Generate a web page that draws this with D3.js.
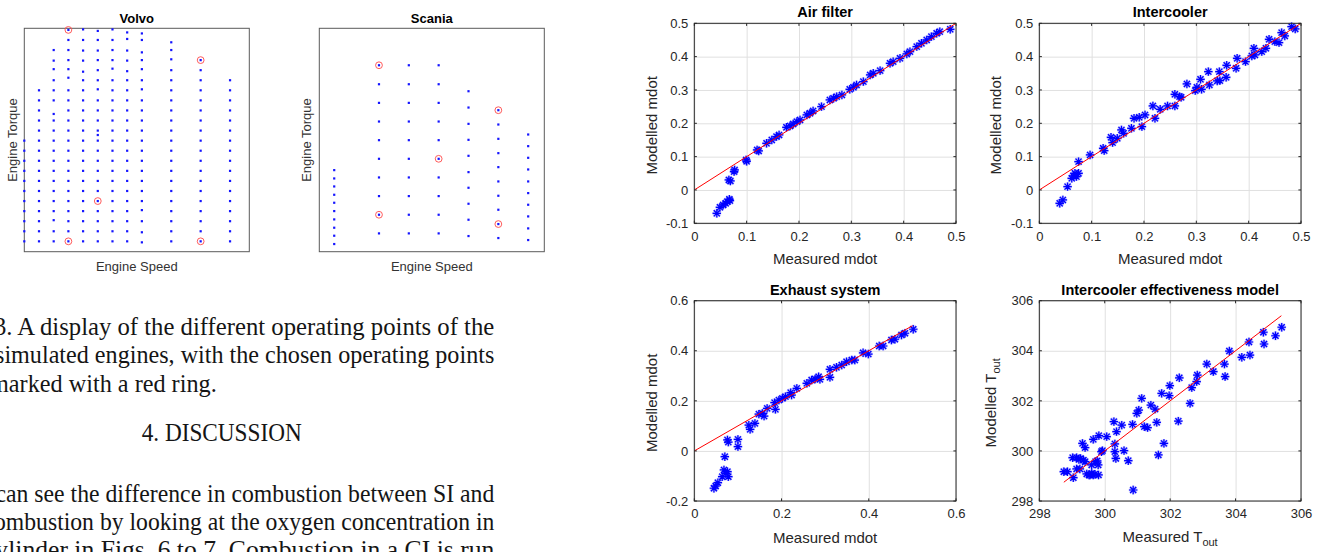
<!DOCTYPE html>
<html>
<head>
<meta charset="utf-8">
<script src="https://cdn.jsdelivr.net/npm/d3@7"></script>
<style>
  body { margin: 0; background: #fff; }
  svg { display: block; }
  text { font-family: "Liberation Sans", Arial, sans-serif; }
  .paper { font-family: "Liberation Serif", "Times New Roman", serif; font-size: 26px; fill: #151515; }
</style>
</head>
<body>
<div id="chart"></div>
<script>
// index.html — page snippet: operating point maps + component model validation

const width = 1327;
const height = 552;

// ---------- data: operating points (engine speed rpm / torque Nm) ----------
const volvoSpeeds = [800, 900, 1000, 1100, 1200, 1300, 1400, 1500, 1600, 1800, 2000, 2200];
const volvoTorques = [
  [200, 300, 400, 500, 600, 700, 800, 900, 1000, 1100, 1200],
  [200, 300, 400, 500, 600, 700, 800, 900, 1000, 1100, 1200, 1300, 1400, 1500, 1600, 1700],
  [200, 300, 410, 500, 600, 700, 800, 900, 1000, 1100, 1200, 1300, 1400, 1465, 1600, 1700, 1800, 1910, 1995, 2100],
  [200, 300, 400, 500, 600, 700, 800, 900, 1000, 1100, 1200, 1300, 1400, 1500, 1600, 1700, 1825, 1910, 2000, 2100, 2200, 2300],
  [200, 300, 400, 500, 600, 700, 800, 900, 1000, 1100, 1200, 1300, 1400, 1500, 1600, 1700, 1800, 1885, 1995, 2095, 2200, 2305],
  [200, 300, 400, 500, 600, 700, 800, 900, 1000, 1100, 1200, 1256, 1300, 1400, 1500, 1600, 1710, 1800, 1900, 2000, 2095, 2200, 2290],
  [200, 300, 400, 500, 600, 700, 800, 900, 1000, 1100, 1200, 1300, 1400, 1500, 1600, 1700, 1800, 1915, 2000, 2100, 2200, 2305],
  [200, 300, 400, 500, 600, 700, 800, 900, 1000, 1100, 1200, 1300, 1400, 1500, 1600, 1700, 1800, 1890, 1995, 2095, 2210, 2275],
  [190, 290, 400, 510, 600, 700, 800, 900, 1000, 1100, 1200, 1300, 1400, 1500, 1600, 1710, 1800, 1910, 2000, 2077, 2200, 2265],
  [200, 300, 400, 500, 600, 700, 800, 900, 1000, 1100, 1200, 1300, 1400, 1500, 1600, 1700, 1800, 1900, 2008, 2100, 2177],
  [200, 300, 400, 500, 600, 700, 800, 900, 1000, 1100, 1200, 1300, 1400, 1500, 1600, 1700, 1800, 1900, 2000],
  [200, 300, 400, 500, 600, 700, 800, 900, 1000, 1100, 1200, 1300, 1400, 1500, 1600, 1700, 1800]
];
const volvoChosen = [[1100, 2300], [2000, 2000], [1300, 600], [1100, 200], [2000, 200]];

const scaniaSpeeds = [700, 1000, 1200, 1400, 1600, 1800, 2000];
const scaniaTorques = [
  [92, 192, 288, 388, 488, 588, 684, 784, 880, 980],
  [220, 444, 668, 892, 1116, 1340, 1564, 1788, 2012, 2240],
  [220, 444, 668, 892, 1116, 1340, 1564, 1788, 2012, 2240],
  [220, 444, 668, 892, 1116, 1340, 1564, 1788, 2012, 2240],
  [188, 384, 576, 768, 956, 1152, 1344, 1536, 1732, 1928],
  [164, 332, 504, 672, 844, 1016, 1184, 1356, 1528, 1700],
  [140, 280, 424, 564, 704, 844, 988, 1128, 1268, 1408]
];
const scaniaChosen = [[1000, 2240], [1800, 1700], [1400, 1116], [1000, 444], [1800, 332]];

// ---------- data: measured vs modelled ----------
const airFilterPts = [
  [0.043, -0.070], [0.049, -0.052], [0.055, -0.045], [0.060, -0.040], [0.063, -0.035], [0.067, -0.028],
  [0.068, -0.032], [0.066, 0.030], [0.069, 0.027], [0.076, 0.055], [0.077, 0.060], [0.099, 0.090],
  [0.100, 0.086], [0.120, 0.120], [0.123, 0.117], [0.138, 0.140], [0.148, 0.150], [0.157, 0.160],
  [0.162, 0.165], [0.176, 0.188], [0.183, 0.192], [0.189, 0.198], [0.196, 0.205], [0.202, 0.210],
  [0.215, 0.225], [0.221, 0.230], [0.227, 0.237], [0.243, 0.250], [0.259, 0.270], [0.266, 0.275],
  [0.272, 0.280], [0.282, 0.285], [0.297, 0.302], [0.304, 0.308], [0.310, 0.315], [0.323, 0.325],
  [0.336, 0.345], [0.342, 0.350], [0.355, 0.358], [0.374, 0.380], [0.380, 0.385], [0.393, 0.395],
  [0.406, 0.408], [0.412, 0.415], [0.425, 0.430], [0.434, 0.440], [0.444, 0.450], [0.453, 0.460],
  [0.463, 0.470], [0.469, 0.475], [0.489, 0.482]
];
const intercoolerPts = [
  [0.039, -0.040], [0.045, -0.030], [0.054, 0.010], [0.062, 0.035], [0.065, 0.042], [0.068, 0.050],
  [0.071, 0.040], [0.075, 0.050], [0.075, 0.085], [0.097, 0.105], [0.122, 0.125], [0.124, 0.118],
  [0.137, 0.158], [0.140, 0.142], [0.149, 0.155], [0.157, 0.180], [0.161, 0.170], [0.176, 0.185],
  [0.181, 0.215], [0.191, 0.218], [0.196, 0.190], [0.202, 0.225], [0.217, 0.252], [0.221, 0.215],
  [0.231, 0.242], [0.245, 0.252], [0.259, 0.287], [0.259, 0.252], [0.268, 0.280], [0.271, 0.278],
  [0.282, 0.318], [0.298, 0.298], [0.301, 0.308], [0.308, 0.332], [0.310, 0.302], [0.325, 0.315],
  [0.323, 0.355], [0.340, 0.327], [0.344, 0.355], [0.345, 0.328], [0.357, 0.338], [0.358, 0.374],
  [0.376, 0.365], [0.378, 0.395], [0.394, 0.385], [0.406, 0.402], [0.410, 0.425], [0.412, 0.405],
  [0.425, 0.415], [0.433, 0.425], [0.439, 0.452], [0.450, 0.445], [0.458, 0.442], [0.463, 0.472],
  [0.469, 0.462], [0.482, 0.490], [0.489, 0.483]
];
const exhaustPts = [
  [0.045, -0.149], [0.049, -0.140], [0.054, -0.127], [0.064, -0.103], [0.068, -0.076], [0.072, -0.090],
  [0.076, -0.083], [0.078, -0.103], [0.070, -0.023], [0.076, 0.044], [0.078, 0.035], [0.100, 0.046],
  [0.100, 0.017], [0.125, 0.103], [0.128, 0.086], [0.139, 0.110], [0.148, 0.147], [0.156, 0.150],
  [0.160, 0.139], [0.167, 0.170], [0.184, 0.193], [0.186, 0.166], [0.194, 0.203], [0.202, 0.210],
  [0.209, 0.217], [0.221, 0.233], [0.223, 0.223], [0.235, 0.250], [0.258, 0.270], [0.269, 0.283],
  [0.277, 0.287], [0.285, 0.296], [0.288, 0.286], [0.311, 0.326], [0.311, 0.294], [0.326, 0.334],
  [0.338, 0.343], [0.349, 0.356], [0.361, 0.363], [0.368, 0.363], [0.387, 0.392], [0.399, 0.387],
  [0.424, 0.419], [0.433, 0.419], [0.452, 0.443], [0.460, 0.446], [0.475, 0.463], [0.483, 0.470],
  [0.502, 0.486]
];
const effectivenessPts = [
  [298.75, 299.17], [298.86, 299.17], [299.04, 298.93], [299.02, 299.73], [299.14, 299.73], [299.21, 299.66],
  [299.14, 299.28], [299.24, 299.28], [299.32, 300.30], [299.40, 300.13], [299.35, 299.63], [299.40, 299.57],
  [299.45, 299.08], [299.55, 299.04], [299.60, 299.10], [299.65, 299.04], [299.70, 299.07], [299.60, 299.44],
  [299.65, 300.46], [299.77, 299.60], [299.80, 299.44], [299.81, 299.04], [299.82, 300.61], [299.90, 299.97],
  [300.06, 300.57], [300.28, 301.17], [300.31, 300.28], [300.31, 299.97], [300.34, 299.70], [300.36, 300.77],
  [300.52, 301.03], [300.59, 300.01], [300.72, 299.61], [300.85, 301.06], [300.87, 298.44], [300.98, 301.50],
  [301.04, 301.63], [301.13, 302.10], [301.21, 300.97], [301.31, 300.93], [301.41, 301.83], [301.54, 301.67],
  [301.59, 301.14], [301.64, 299.84], [301.74, 302.30], [301.81, 300.30], [301.97, 302.21], [301.99, 302.61],
  [302.25, 301.19], [302.28, 302.92], [302.61, 301.90], [302.66, 302.53], [302.81, 302.77], [302.83, 303.03],
  [303.12, 303.47], [303.32, 303.17], [303.66, 303.47], [303.68, 302.97], [303.81, 303.99], [304.19, 303.74],
  [304.41, 304.35], [304.44, 303.83], [304.85, 304.74], [304.87, 304.27], [305.22, 304.60], [305.41, 304.94],
  [299.52, 299.04], [299.72, 299.57], [299.93, 300.01], [299.26, 299.70]
];

// y = x reference lines
const mdotLine = [[0, 0], [0.5, 0.5]];
const toutLine = [[298.75, 298.75], [305.4, 305.4]];

// tick values
const mdotTicks5 = [0, 0.1, 0.2, 0.3, 0.4, 0.5];
const mdotYTicks5 = [-0.1, 0, 0.1, 0.2, 0.3, 0.4, 0.5];
const mdotTicks6 = [0, 0.2, 0.4, 0.6];
const mdotYTicks6 = [-0.2, 0, 0.2, 0.4, 0.6];
const toutTicks = [298, 300, 302, 304, 306];

// paper text lines
const paperLines = [
  "3. A display of the different operating points of the",
  "simulated engines, with the chosen operating points",
  "marked with a red ring.",
  "4. DISCUSSION",
  "can see the difference in combustion between SI and",
  "combustion by looking at the oxygen concentration in",
  "cylinder in Figs. 6 to 7. Combustion in a CI is run"
];

// ---------- svg ----------
const svg = d3.select("#chart")
  .append("svg")
  .attr("width", width)
  .attr("height", height);

svg.append("rect").attr("width", width).attr("height", height).attr("fill", "#fff");

// ---------- operating point maps ----------
function opPanel(p) {
  const x = d3.scaleLinear().domain(p.xDomain).range([p.left, p.right]);
  const y = d3.scaleLinear().domain(p.yDomain).range([p.bottom, p.top]);
  const g = svg.append("g");

  g.append("rect")
    .attr("x", p.left).attr("y", p.top)
    .attr("width", p.right - p.left).attr("height", p.bottom - p.top)
    .attr("fill", "none").attr("stroke", "#5a5a5a").attr("stroke-width", 1);

  const pts = p.speeds.flatMap((s, i) => p.torques[i].map(t => [s, t]));
  g.selectAll(".dot").data(pts).join("rect")
    .attr("x", d => x(d[0]) - 1.1).attr("y", d => y(d[1]) - 1.1)
    .attr("width", 2.2).attr("height", 2.2)
    .attr("fill", "#1414ff");

  g.selectAll(".ring").data(p.chosen).join("circle")
    .attr("cx", d => x(d[0])).attr("cy", d => y(d[1]))
    .attr("r", 3.4)
    .attr("fill", "none").attr("stroke", "#ff4a4a").attr("stroke-width", 0.9);

  const cx = (p.left + p.right) / 2;
  g.append("text").attr("x", cx).attr("y", 22.5)
    .attr("text-anchor", "middle").attr("font-size", 13).attr("font-weight", "bold")
    .attr("fill", "#000").text(p.title);
  g.append("text").attr("x", cx).attr("y", 270.5)
    .attr("text-anchor", "middle").attr("font-size", 13)
    .attr("fill", "#333").text("Engine Speed");
  g.append("text")
    .attr("transform", `translate(${p.ylabelX},${(p.top + p.bottom) / 2}) rotate(-90)`)
    .attr("text-anchor", "middle").attr("dy", "0.35em").attr("font-size", 13)
    .attr("fill", "#333").text("Engine Torque");
}

opPanel({
  title: "Volvo", speeds: volvoSpeeds, torques: volvoTorques, chosen: volvoChosen,
  xDomain: [800, 2331], yDomain: [97, 2316],
  left: 24.3, right: 249.3, top: 28.3, bottom: 251.7, ylabelX: 12.5
});
opPanel({
  title: "Scania", speeds: scaniaSpeeds, torques: scaniaTorques, chosen: scaniaChosen,
  xDomain: [600, 2108], yDomain: [0, 2684],
  left: 319.3, right: 544.3, top: 28.3, bottom: 251.7, ylabelX: 306.5
});

// ---------- scatter panels ----------
function asterisk(cx, cy, r) {
  const d = r * 0.72;
  return `M${cx - r},${cy}L${cx + r},${cy}M${cx},${cy - r}L${cx},${cy + r}` +
         `M${cx - d},${cy - d}L${cx + d},${cy + d}M${cx - d},${cy + d}L${cx + d},${cy - d}`;
}

const fmt = d => d === 0 ? "0" : (Number.isInteger(d) ? String(d) : d.toFixed(1));

function scatterPanel(p) {
  const x = d3.scaleLinear().domain(p.xDomain).range([p.left, p.right]);
  const y = d3.scaleLinear().domain(p.yDomain).range([p.bottom, p.top]);
  const w = p.right - p.left, h = p.bottom - p.top;
  const g = svg.append("g");

  // grid + tick labels
  const gx = g.append("g")
    .attr("transform", `translate(0,${p.bottom})`)
    .call(d3.axisBottom(x).tickValues(p.xTicks).tickSize(-h).tickPadding(8).tickFormat(fmt));
  const gy = g.append("g")
    .attr("transform", `translate(${p.left},0)`)
    .call(d3.axisLeft(y).tickValues(p.yTicks).tickSize(-w).tickPadding(6).tickFormat(fmt));
  [gx, gy].forEach(a => {
    a.select(".domain").remove();
    a.selectAll("line").attr("stroke", "#e0e0e0");
    a.selectAll("text").attr("font-size", 13).attr("fill", "#262626")
      .attr("font-family", "Liberation Sans, Arial, sans-serif");
  });

  // markers
  const pts = g.append("g");
  pts.selectAll(".halo").data(p.points).join("path")
    .attr("d", d => asterisk(x(d[0]), y(d[1]), 4.4))
    .attr("stroke", "#7a7aff").attr("stroke-width", 2.4).attr("stroke-opacity", 0.55).attr("fill", "none");
  pts.selectAll(".star").data(p.points).join("path")
    .attr("d", d => asterisk(x(d[0]), y(d[1]), 4.2))
    .attr("stroke", "#0000ff").attr("stroke-width", 1.2).attr("fill", "none");

  // y = x line
  g.append("path").datum(p.line)
    .attr("fill", "none").attr("stroke", "#ff0000").attr("stroke-width", 1)
    .attr("d", d3.line().x(d => x(d[0])).y(d => y(d[1])));

  // box + small inner ticks
  g.append("rect").attr("x", p.left).attr("y", p.top).attr("width", w).attr("height", h)
    .attr("fill", "none").attr("stroke", "#262626").attr("stroke-width", 1);
  const tk = 2.6;
  p.xTicks.forEach(v => {
    g.append("line").attr("x1", x(v)).attr("x2", x(v)).attr("y1", p.bottom).attr("y2", p.bottom - tk).attr("stroke", "#262626");
    g.append("line").attr("x1", x(v)).attr("x2", x(v)).attr("y1", p.top).attr("y2", p.top + tk).attr("stroke", "#262626");
  });
  p.yTicks.forEach(v => {
    g.append("line").attr("y1", y(v)).attr("y2", y(v)).attr("x1", p.left).attr("x2", p.left + tk).attr("stroke", "#262626");
    g.append("line").attr("y1", y(v)).attr("y2", y(v)).attr("x1", p.right).attr("x2", p.right - tk).attr("stroke", "#262626");
  });

  // title and labels
  const cx = (p.left + p.right) / 2;
  g.append("text").attr("x", cx).attr("y", p.titleY)
    .attr("text-anchor", "middle").attr("font-size", 14.5).attr("font-weight", "bold")
    .attr("fill", "#000").text(p.title);

  const xl = g.append("text").attr("x", cx).attr("y", p.xlabelY)
    .attr("text-anchor", "middle").attr("font-size", 15).attr("fill", "#262626");
  const yl = g.append("text")
    .attr("transform", `translate(${p.ylabelX},${(p.top + p.bottom) / 2 + 2}) rotate(-90)`)
    .attr("text-anchor", "middle").attr("dy", "0.35em").attr("font-size", 15).attr("fill", "#262626");
  if (p.sub) {
    xl.append("tspan").text("Measured T");
    xl.append("tspan").attr("font-size", 11).attr("dy", 4).text("out");
    yl.append("tspan").text("Modelled T");
    yl.append("tspan").attr("font-size", 11).attr("dy", 4).text("out");
  } else {
    xl.text("Measured mdot");
    yl.text("Modelled mdot");
  }
}

scatterPanel({
  title: "Air filter", points: airFilterPts, line: mdotLine,
  xDomain: [0, 0.5], yDomain: [-0.1, 0.5], xTicks: mdotTicks5, yTicks: mdotYTicks5,
  left: 694.3, right: 956, top: 23.3, bottom: 223.3,
  titleY: 16.7, xlabelY: 263.5, ylabelX: 652
});
scatterPanel({
  title: "Intercooler", points: intercoolerPts, line: mdotLine,
  xDomain: [0, 0.5], yDomain: [-0.1, 0.5], xTicks: mdotTicks5, yTicks: mdotYTicks5,
  left: 1039.3, right: 1301, top: 23.3, bottom: 223.3,
  titleY: 17.3, xlabelY: 263.5, ylabelX: 996
});
scatterPanel({
  title: "Exhaust system", points: exhaustPts, line: mdotLine,
  xDomain: [0, 0.6], yDomain: [-0.2, 0.6], xTicks: mdotTicks6, yTicks: mdotYTicks6,
  left: 694.3, right: 956, top: 300.7, bottom: 501,
  titleY: 295, xlabelY: 543.3, ylabelX: 652
});
scatterPanel({
  title: "Intercooler effectiveness model", points: effectivenessPts, line: toutLine, sub: true,
  xDomain: [298, 306], yDomain: [298, 306], xTicks: toutTicks, yTicks: toutTicks,
  left: 1039.3, right: 1301, top: 300.7, bottom: 501,
  titleY: 295, xlabelY: 541.7, ylabelX: 991
});

// ---------- paper text (left column, cropped at the page edge) ----------
const paperLayout = [
  { x: -6, y: 335, len: 500.3 },
  { x: -5, y: 363.3, len: 499.3 },
  { x: -10, y: 391.7, len: 226.7 },
  { x: 141.7, y: 441, len: 160 },
  { x: -4.5, y: 501.7, len: 498.8 },
  { x: -16.5, y: 530, len: 510.8 },
  { x: -16, y: 558.3, len: 510.3 }
];
svg.append("g").selectAll("text").data(paperLines).join("text")
  .attr("class", "paper")
  .attr("x", (d, i) => paperLayout[i].x)
  .attr("y", (d, i) => paperLayout[i].y)
  .attr("textLength", (d, i) => paperLayout[i].len)
  .attr("lengthAdjust", "spacingAndGlyphs")
  .text(d => d);
</script>
</body>
</html>
